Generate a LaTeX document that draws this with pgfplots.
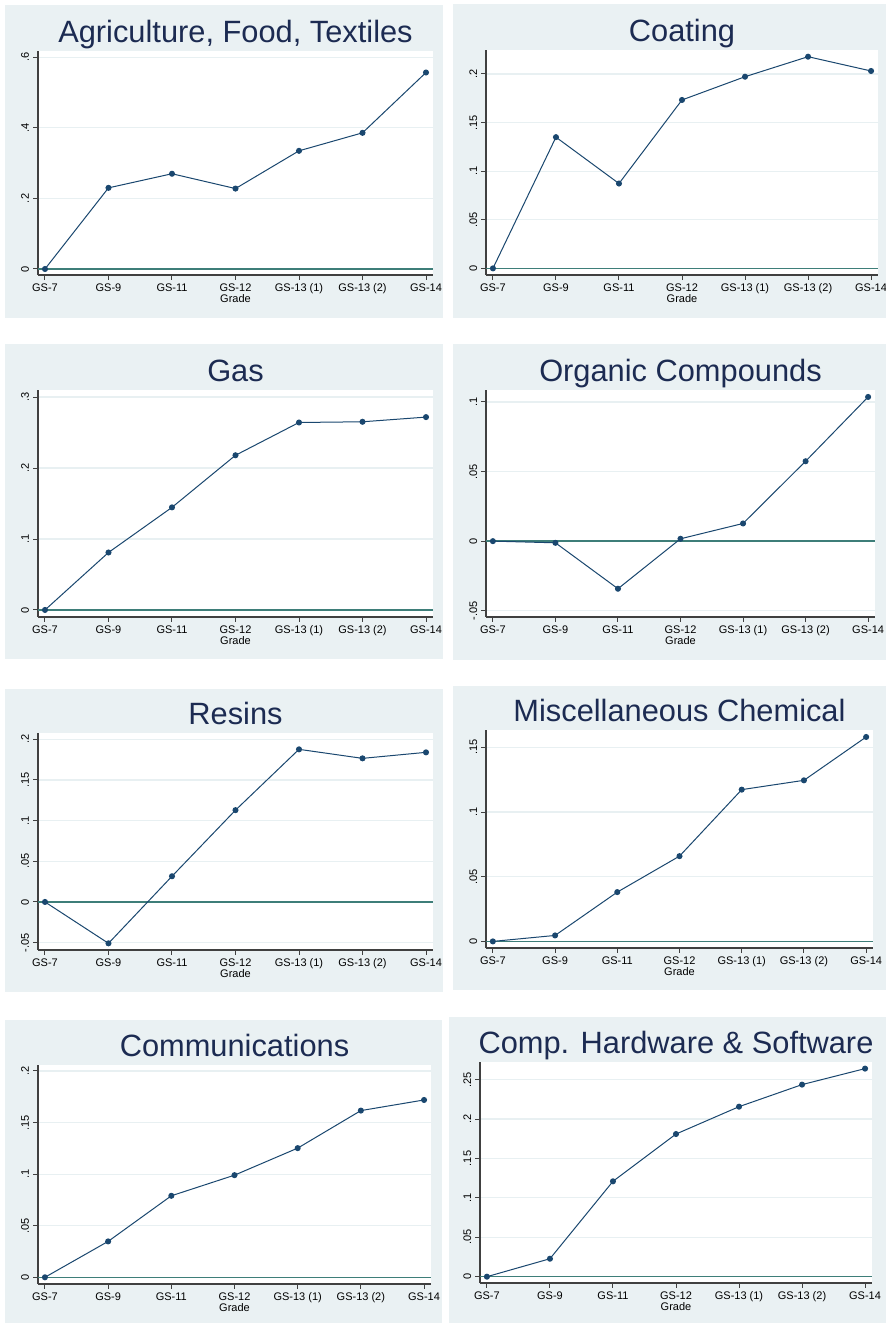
\documentclass[border=0pt]{standalone}
\usepackage{fontspec}
\setmainfont{Liberation Sans}
\usepackage{pgfplots}
\pgfplotsset{compat=1.18}

\definecolor{bgc}{RGB}{234,241,243}
\definecolor{gridc}{RGB}{232,240,242}
\definecolor{titlec}{RGB}{28,43,82}
\definecolor{linec}{RGB}{26,71,111}
\definecolor{zeroc}{RGB}{62,126,121}

\pgfplotsset{
  panel/.style={
    scale only axis,
    anchor=south west,
    axis lines=left,
    axis line style={-, black!75, line width=0.6pt},
    xmin=-0.11, xmax=6.11,
    xtick={0,...,6},
    xticklabels={GS-7,GS-9,GS-11,GS-12,GS-13 (1),GS-13 (2),GS-14},
    tick align=outside,
    major tick length=2.3pt,
    tick style={black!75, line width=0.5pt},
    ymajorgrids,
    grid style={gridc, line width=0.6pt},
    axis background/.style={fill=white},
    ticklabel style={font=\fontsize{5.5}{6}\selectfont, text=black},
    xticklabel style={anchor=base, yshift=-6.2pt},
    yticklabel style={xshift=-2.2pt, rotate=90, anchor=base},
    xlabel={Grade},
    xlabel style={font=\fontsize{5.5}{6}\selectfont, at={(axis description cs:0.5,0)}, anchor=base, yshift=-13.8pt},
    title style={font=\fontsize{15.4}{18}\selectfont, text=titlec, at={(axis description cs:0.5,1)}, anchor=base, yshift=-1.7pt},
  },
  series/.style={linec, line width=0.5pt, mark=*, mark size=1.25pt, mark options={fill=linec, draw=linec}},
  zline/.style={zeroc, line width=0.7pt, no marks},
}

\begin{document}
\begin{tikzpicture}
% panel backgrounds
\fill[white] (0,0) rectangle (443pt,661.5pt);
\fill[bgc] (2.5pt,502.5pt) rectangle (221.5pt,659pt);
\fill[bgc] (226.5pt,502.5pt) rectangle (443pt,659.5pt);
\fill[bgc] (2.5pt,332pt) rectangle (221.5pt,489.5pt);
\fill[bgc] (226.5pt,331.5pt) rectangle (443pt,489.5pt);
\fill[bgc] (2.5pt,165.5pt) rectangle (221.5pt,317pt);
\fill[bgc] (226.5pt,166.5pt) rectangle (443pt,318.5pt);
\fill[bgc] (2.5pt,0pt) rectangle (220.8pt,151.5pt);
\fill[bgc] (224.5pt,0pt) rectangle (443pt,153pt);

% Agriculture, Food, Textiles
\begin{axis}[panel, at={(19pt,524pt)}, width=197.5pt, height=112pt,
  title={Agriculture, Food, Textiles},
  ymin=-0.017, ymax=0.618,
  ytick={0,0.2,0.4,0.6}, yticklabels={0,.2,.4,.6}]
\addplot[zline] coordinates {(-0.11,0) (6.11,0)};
\addplot[series] coordinates {(0,0) (1,0.230) (2,0.270) (3,0.228) (4,0.335) (5,0.386) (6,0.557)};
\end{axis}

% Coating
\begin{axis}[panel, at={(243pt,524pt)}, width=196pt, height=112.5pt,
  title={Coating},
  ymin=-0.0068, ymax=0.2247,
  ytick={0,0.05,0.1,0.15,0.2}, yticklabels={0,.05,.1,.15,.2}]
\addplot[zline] coordinates {(-0.11,0) (6.11,0)};
\addplot[series] coordinates {(0,0) (1,0.135) (2,0.0873) (3,0.1733) (4,0.1972) (5,0.2178) (6,0.2031)};
\end{axis}

% Gas
\begin{axis}[panel, at={(19pt,353pt)}, width=197.5pt, height=113.5pt,
  title={Gas},
  ymin=-0.0099, ymax=0.310,
  ytick={0,0.1,0.2,0.3}, yticklabels={0,.1,.2,.3}]
\addplot[zline] coordinates {(-0.11,0) (6.11,0)};
\addplot[series] coordinates {(0,0) (1,0.081) (2,0.1446) (3,0.218) (4,0.2642) (5,0.2652) (6,0.2718)};
\end{axis}

% Organic Compounds
\begin{axis}[panel, at={(243pt,353pt)}, width=194.5pt, height=113.5pt,
  title={Organic Compounds},
  ymin=-0.0545, ymax=0.1086,
  ytick={-0.05,0,0.05,0.1}, yticklabels={-.05,0,.05,.1}]
\addplot[zline] coordinates {(-0.11,0) (6.11,0)};
\addplot[series] coordinates {(0,0) (1,-0.0012) (2,-0.0342) (3,0.0017) (4,0.0127) (5,0.0574) (6,0.1036)};
\end{axis}

% Resins
\begin{axis}[panel, at={(19pt,186.5pt)}, width=197.5pt, height=108.5pt,
  title={Resins},
  ymin=-0.0591, ymax=0.2078,
  ytick={-0.05,0,0.05,0.1,0.15,0.2}, yticklabels={-.05,0,.05,.1,.15,.2}]
\addplot[zline] coordinates {(-0.11,0) (6.11,0)};
\addplot[series] coordinates {(0,0) (1,-0.0509) (2,0.0316) (3,0.1129) (4,0.1877) (5,0.1766) (6,0.184)};
\end{axis}

% Miscellaneous Chemical
\begin{axis}[panel, at={(243pt,187.5pt)}, width=193.5pt, height=109pt,
  title={Miscellaneous Chemical},
  ymin=-0.0051, ymax=0.1634,
  ytick={0,0.05,0.1,0.15}, yticklabels={0,.05,.1,.15}]
\addplot[zline] coordinates {(-0.11,0) (6.11,0)};
\addplot[series] coordinates {(0,0) (1,0.0046) (2,0.0381) (3,0.0659) (4,0.1173) (5,0.1245) (6,0.158)};
\end{axis}

% Communications
\begin{axis}[panel, at={(19pt,19.5pt)}, width=196.5pt, height=109.5pt,
  title={Communications},
  ymin=-0.0065, ymax=0.2058,
  ytick={0,0.05,0.1,0.15,0.2}, yticklabels={0,.05,.1,.15,.2}]
\addplot[zline] coordinates {(-0.11,0) (6.11,0)};
\addplot[series] coordinates {(0,0) (1,0.0348) (2,0.079) (3,0.099) (4,0.1252) (5,0.1616) (6,0.1719)};
\end{axis}

% Comp. Hardware & Software
\begin{axis}[panel, at={(240pt,20pt)}, width=196pt, height=110.5pt,
  title={Comp. Hardware \& Software},
  ymin=-0.008, ymax=0.2724,
  ytick={0,0.05,0.1,0.15,0.2,0.25}, yticklabels={0,.05,.1,.15,.2,.25}]
\addplot[zline] coordinates {(-0.11,0) (6.11,0)};
\addplot[series] coordinates {(0,0) (1,0.0228) (2,0.121) (3,0.181) (4,0.2157) (5,0.2437) (6,0.264)};
\end{axis}

\pgfresetboundingbox
\path (0,0) rectangle (443pt,661.5pt);
\end{tikzpicture}
\end{document}
